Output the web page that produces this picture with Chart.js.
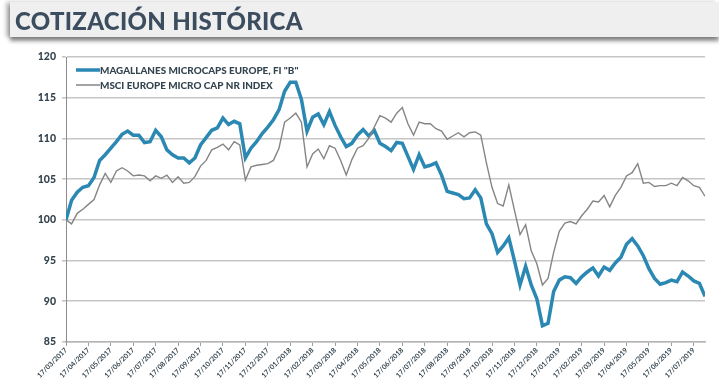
<!DOCTYPE html>
<html lang="es">
<head>
<meta charset="UTF-8">
<title>Cotización histórica</title>
<script src="https://cdn.jsdelivr.net/npm/chart.js"></script>
<style>
    html, body {
        margin: 0;
        padding: 0;
        background: #ffffff;
        width: 719px;
        height: 386px;
        overflow: hidden;
        font-family: Lato, "DejaVu Sans", sans-serif;
    }
    #banner {
        position: absolute;
        left: 10px;
        top: 2px;
        width: 709px;
        height: 35px;
        background: #efefef;
        box-shadow: 0 4px 4px rgba(0, 0, 0, 0.45), -4px 0 4px rgba(0, 0, 0, 0.25);
    }
    #banner h1 {
        margin: 0;
        position: absolute;
        left: 5px;
        top: 4px;
        font-size: 24px;
        font-weight: 900;
        color: #3b4d5e;
        letter-spacing: 0.3px;
    }
    #chartBox {
        position: absolute;
        left: 0;
        top: 0;
        width: 719px;
        height: 386px;
    }
</style>
</head>
<body>
<div id="chartBox"><canvas id="cotizacion"></canvas></div>
<div id="banner"><h1>COTIZACIÓN HISTÓRICA</h1></div>

<script>
// monthly tick labels (one every month from 17/03/2017)
const tickLabels = [
    '17/03/2017', '17/04/2017', '17/05/2017', '17/06/2017', '17/07/2017', '17/08/2017',
    '17/09/2017', '17/10/2017', '17/11/2017', '17/12/2017', '17/01/2018', '17/02/2018',
    '17/03/2018', '17/04/2018', '17/05/2018', '17/06/2018', '17/07/2018', '17/08/2018',
    '17/09/2018', '17/10/2018', '17/11/2018', '17/12/2018', '17/01/2019', '17/02/2019',
    '17/03/2019', '17/04/2019', '17/05/2019', '17/06/2019', '17/07/2019'
];

const seriesNames = ['MAGALLANES MICROCAPS EUROPE, FI "B"', 'MSCI EUROPE MICRO CAP NR INDEX'];

// values, four points per month
const fundValues = [
    100.0, 102.4, 103.4, 104.0, 104.2, 105.2, 107.3, 108.0, 108.8, 109.6,
    110.5, 110.9, 110.4, 110.4, 109.5, 109.6, 111.0, 110.2, 108.6, 108.0,
    107.6, 107.6, 107.0, 107.6, 109.2, 110.1, 111.0, 111.3, 112.5, 111.7,
    112.1, 111.8, 107.6, 108.8, 109.6, 110.6, 111.4, 112.3, 113.5, 115.8,
    116.9, 116.9, 114.8, 110.9, 112.6, 113.0, 111.7, 113.3, 111.6, 110.2,
    109.0, 109.4, 110.4, 111.1, 110.3, 111.0, 109.4, 109.0, 108.5, 109.5,
    109.4, 107.8, 106.2, 108.0, 106.5, 106.7, 107.0, 105.5, 103.5, 103.3,
    103.1, 102.6, 102.7, 103.7, 102.7, 99.5, 98.3, 96.0, 96.8, 97.8,
    95.0, 92.0, 94.3, 92.0, 90.3, 87.0, 87.3, 91.2, 92.6, 93.0,
    92.9, 92.2, 93.0, 93.6, 94.1, 93.1, 94.2, 93.8, 94.7, 95.4,
    97.0, 97.7, 96.8, 95.6, 94.0, 92.8, 92.1, 92.3, 92.6, 92.4,
    93.6, 93.1, 92.5, 92.2, 90.6
];

const indexValues = [
    100.0, 99.5, 100.8, 101.3, 101.9, 102.5, 104.3, 105.7, 104.6, 106.0,
    106.4, 106.0, 105.4, 105.5, 105.4, 104.8, 105.4, 105.1, 105.5, 104.6,
    105.3, 104.5, 104.6, 105.3, 106.6, 107.3, 108.6, 108.9, 109.3, 108.6,
    109.6, 109.2, 104.9, 106.5, 106.7, 106.8, 106.9, 107.3, 108.8, 112.0,
    112.5, 113.1, 112.0, 106.5, 108.1, 108.7, 107.5, 109.1, 108.8, 107.3,
    105.5, 107.4, 108.8, 109.1, 110.0, 111.4, 112.8, 112.5, 112.0, 113.1,
    113.8, 111.8, 110.4, 112.0, 111.8, 111.8, 111.2, 110.9, 109.9, 110.3,
    110.7, 110.2, 110.7, 110.8, 110.4, 107.0, 104.0, 102.0, 101.7, 104.3,
    101.2, 98.2, 99.4, 96.2, 94.6, 92.0, 92.8, 96.0, 98.6, 99.6,
    99.8, 99.5, 100.5, 101.3, 102.3, 102.2, 103.0, 101.6, 103.0, 104.0,
    105.4, 105.8, 106.9, 104.5, 104.6, 104.1, 104.2, 104.2, 104.5, 104.2,
    105.2, 104.8, 104.2, 104.0, 102.9
];

const yTicks = [85, 90, 95, 100, 105, 110, 115, 120];

const fundColor = '#2a88b3';
const indexColor = '#858585';
const textColor = '#34444f';

// x position in months since 17/03/2017
function toPoints(values) {
    return values.map((v, i) => ({ x: i / 4, y: v }));
}

// legend drawn inside the plot, top left
const innerLegend = {
    id: 'innerLegend',
    afterDatasetsDraw(chart) {
        const ctx = chart.ctx;
        const left = chart.chartArea.left + 10;
        const rows = [
            { y: 70, color: fundColor, width: 3.5, text: seriesNames[0] },
            { y: 85, color: indexColor, width: 1.5, text: seriesNames[1] }
        ];
        ctx.save();
        ctx.font = '900 9.9px Lato, "DejaVu Sans", sans-serif';
        ctx.textBaseline = 'middle';
        rows.forEach(r => {
            ctx.strokeStyle = r.color;
            ctx.lineWidth = r.width;
            ctx.beginPath();
            ctx.moveTo(left, r.y);
            ctx.lineTo(left + 24, r.y);
            ctx.stroke();
            ctx.fillStyle = textColor;
            ctx.fillText(r.text, left + 24, r.y + 0.5);
        });
        ctx.restore();
    }
};

const ctx = document.getElementById('cotizacion').getContext('2d');
new Chart(ctx, {
    type: 'line',
    data: {
        datasets: [
            {
                label: seriesNames[1],
                data: toPoints(indexValues),
                borderColor: indexColor,
                borderWidth: 1.4,
                pointRadius: 0,
                tension: 0
            },
            {
                label: seriesNames[0],
                data: toPoints(fundValues),
                borderColor: fundColor,
                borderWidth: 3.5,
                pointRadius: 0,
                tension: 0
            }
        ]
    },
    options: {
        responsive: true,
        maintainAspectRatio: false,
        animation: false,
        layout: { padding: { top: 57, right: 14, left: 0, bottom: 0 } },
        scales: {
            x: {
                type: 'linear',
                min: 0,
                max: 28.5,
                // one tick per month label
                afterBuildTicks: s => { s.ticks = tickLabels.map((t, i) => ({ value: i })); },
                afterFit: s => { s.height = 44; },
                ticks: {
                    stepSize: 1,
                    autoSkip: false,
                    maxRotation: 45,
                    minRotation: 45,
                    padding: 0,
                    color: textColor,
                    font: { family: 'Lato, "DejaVu Sans", sans-serif', size: 7, weight: 'bold' },
                    callback: v => tickLabels[Math.round(v)] || ''
                },
                grid: { drawOnChartArea: false, drawTicks: true, tickLength: 4, color: '#a0a0a0' },
                border: { color: '#b5b5b5', width: 1.5 }
            },
            y: {
                min: 85,
                max: 120,
                afterBuildTicks: s => { s.ticks = yTicks.map(v => ({ value: v })); },
                afterFit: s => { s.width = 66; },
                ticks: {
                    padding: 6,
                    color: textColor,
                    font: { family: 'Lato, "DejaVu Sans", sans-serif', size: 10.5, weight: '900' }
                },
                grid: { color: '#c6c6c6', lineWidth: 1.6, tickLength: 4 },
                border: { color: '#8c8c8c', width: 1 }
            }
        },
        plugins: {
            legend: { display: false },
            tooltip: { enabled: false }
        }
    },
    plugins: [innerLegend]
});
</script>
</body>
</html>
